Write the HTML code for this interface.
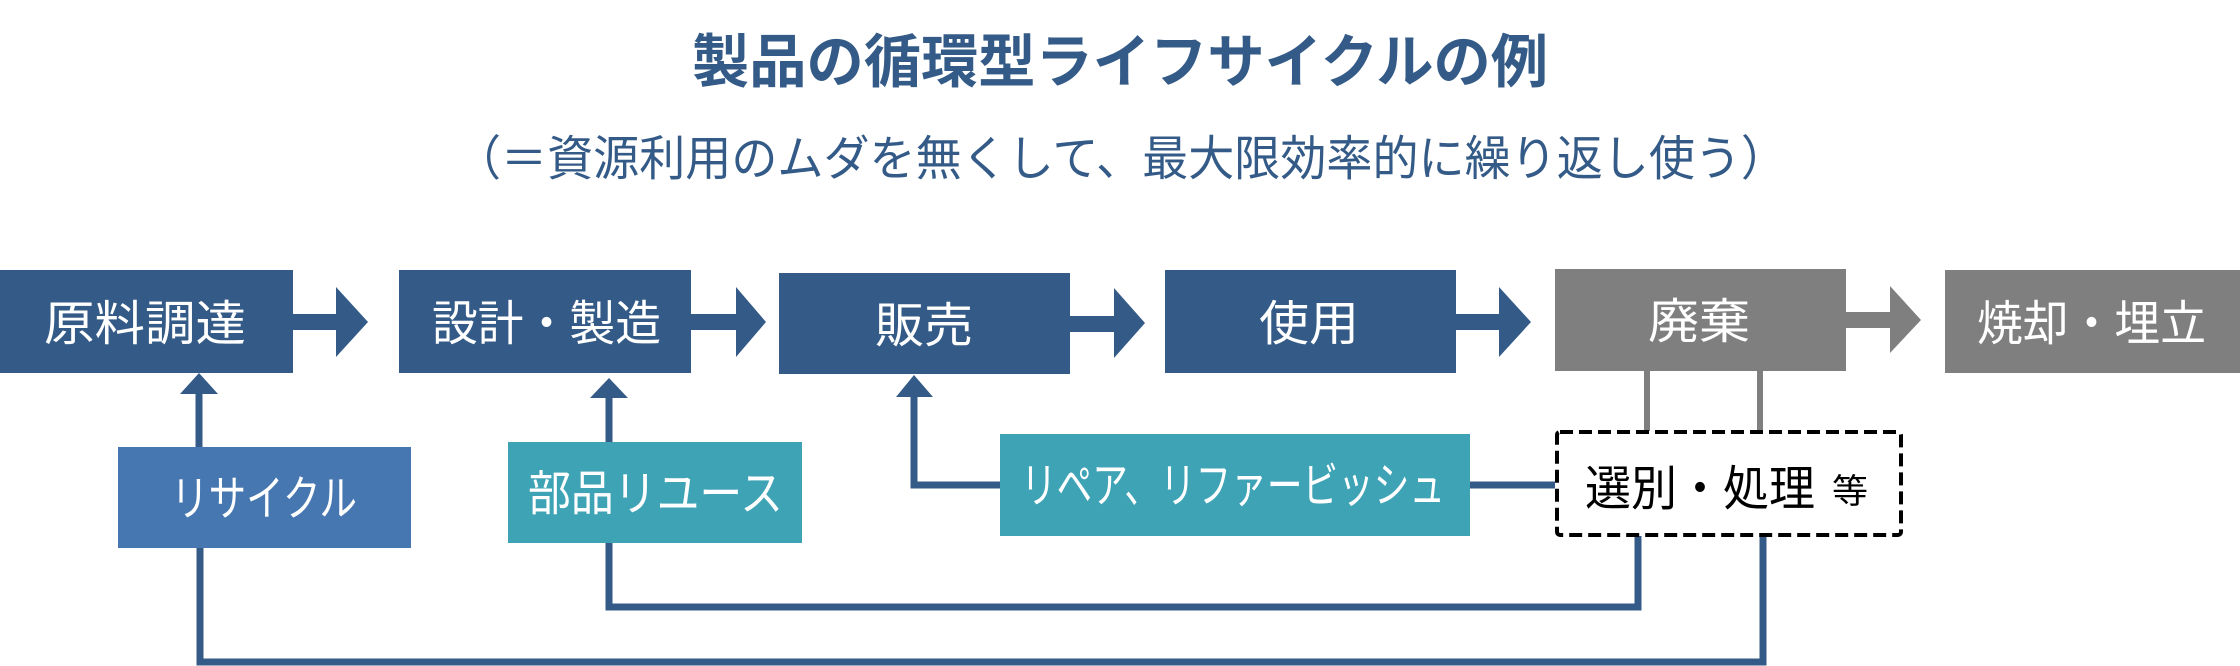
<!DOCTYPE html>
<html><head><meta charset="utf-8"><style>
html,body{margin:0;padding:0;background:#fff;}
svg{display:block;}
text{font-family:"Liberation Sans","Noto Sans CJK JP",sans-serif;}
</style></head><body>
<svg width="2240" height="666" viewBox="0 0 2240 666" xmlns="http://www.w3.org/2000/svg">
<text x="692" y="82" font-size="58" font-weight="bold" fill="#345b87" textLength="856" lengthAdjust="spacingAndGlyphs">製品の循環型ライフサイクルの例</text>
<text x="455" y="175" font-size="48" fill="#345b87" textLength="1332" lengthAdjust="spacingAndGlyphs">（＝資源利用のムダを無くして、最大限効率的に繰り返し使う）</text>

<!-- top boxes -->
<rect x="0" y="270" width="293" height="103" fill="#345b87"/>
<rect x="399" y="270" width="292" height="103" fill="#345b87"/>
<rect x="779" y="273" width="291" height="101" fill="#345b87"/>
<rect x="1165" y="270" width="291" height="103" fill="#345b87"/>
<rect x="1555" y="269" width="291" height="102" fill="#7f7f7f"/>
<rect x="1945" y="270" width="295" height="103" fill="#7f7f7f"/>

<!-- arrows -->
<g fill="#345b87">
<polygon points="293,314 336,314 336,287 368,322 336,357 336,330 293,330"/>
<polygon points="691,314 736,314 736,287 766,322 736,357 736,330 691,330"/>
<polygon points="1070,316 1114,316 1114,288 1145,323 1114,358 1114,332 1070,332"/>
<polygon points="1456,314 1499,314 1499,287 1531,322 1499,357 1499,330 1456,330"/>
</g>
<polygon fill="#7f7f7f" points="1846,312 1890,312 1890,286 1921,320 1890,353 1890,328 1846,328"/>

<g font-size="48" fill="#fff" lengthAdjust="spacingAndGlyphs">
<text x="44" y="340" textLength="202" lengthAdjust="spacingAndGlyphs">原料調達</text>
<text x="432" y="340" textLength="229" lengthAdjust="spacingAndGlyphs">設計・製造</text>
<text x="875" y="342" textLength="98" lengthAdjust="spacingAndGlyphs">販売</text>
<text x="1259" y="340" textLength="100" lengthAdjust="spacingAndGlyphs">使用</text>
<text x="1648" y="338" textLength="102" lengthAdjust="spacingAndGlyphs">廃棄</text>
<text x="1977" y="340" textLength="229" lengthAdjust="spacingAndGlyphs">焼却・埋立</text>
</g>

<!-- gray connectors -->
<rect x="1644" y="371" width="6" height="60" fill="#7f7f7f"/>
<rect x="1757" y="371" width="6" height="60" fill="#7f7f7f"/>

<!-- blue connectors -->
<g fill="none" stroke="#345b87" stroke-width="7">
<polyline points="199,447 199,390"/>
<polyline points="609,442 609,394"/>
<polyline points="1000,485 914,485 914,393"/>
<polyline points="1470,485 1555,485"/>
<polyline points="609,543 609,607 1638,607 1638,536"/>
<polyline points="200,548 200,662 1763,662 1763,536"/>
</g>
<g fill="#345b87">
<polygon points="180,394 218,394 199,373"/>
<polygon points="590,398 628,398 609,378"/>
<polygon points="896,397 933,397 914,375"/>
</g>

<!-- lower boxes -->
<rect x="118" y="447" width="293" height="101" fill="#4677b0"/>
<rect x="508" y="442" width="294" height="101" fill="#3ea3b5"/>
<rect x="1000" y="434" width="470" height="102" fill="#3ea3b5"/>
<rect x="1557" y="432" width="344" height="103" fill="#fff" stroke="#000" stroke-width="4" stroke-dasharray="13,6" rx="3"/>

<g font-size="48" fill="#fff">
<text x="171" y="515" textLength="186" lengthAdjust="spacingAndGlyphs">リサイクル</text>
<text x="528" y="510" textLength="255" lengthAdjust="spacingAndGlyphs">部品リユース</text>
<text x="1021" y="502" textLength="424" lengthAdjust="spacingAndGlyphs">リペア、リファービッシュ</text>
</g>
<text x="1585" y="505" font-size="48" fill="#000" textLength="230" lengthAdjust="spacingAndGlyphs">選別・処理</text>
<text x="1832" y="503" font-size="34" fill="#000" textLength="36" lengthAdjust="spacingAndGlyphs">等</text>
</svg>
</body></html>
